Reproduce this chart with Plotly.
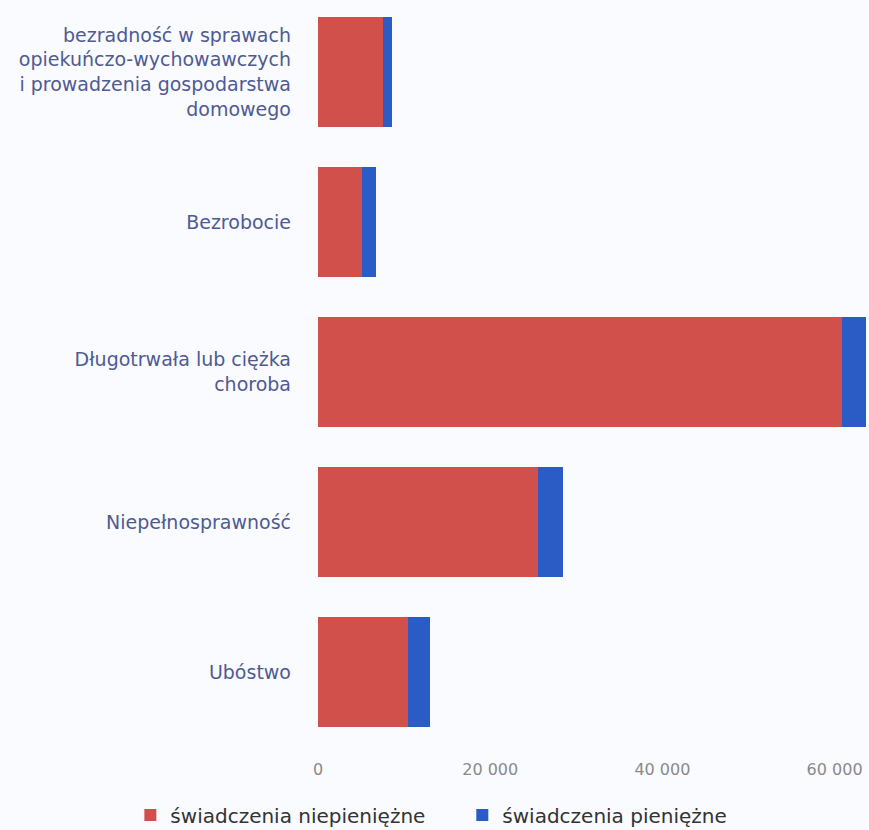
import plotly.graph_objects as go

categories = [
    "bezradność w sprawach<br>opiekuńczo-wychowawczych<br>i prowadzenia gospodarstwa<br>domowego",
    "Bezrobocie",
    "Długotrwała lub ciężka<br>choroba",
    "Niepełnosprawność",
    "Ubóstwo",
]
niepieniezne = [7600, 5100, 60900, 25500, 10500]
pieniezne = [1050, 1650, 2800, 2900, 2550]
x_ticks = [0, 20000, 40000, 60000]

fig = go.Figure()
fig.add_trace(
    go.Bar(
        y=categories,
        x=niepieniezne,
        orientation="h",
        name="świadczenia niepieniężne",
        marker=dict(color="#d2504c", line=dict(width=0)),
        legend="legend",
    )
)
fig.add_trace(
    go.Bar(
        y=categories,
        x=pieniezne,
        orientation="h",
        name="świadczenia pieniężne",
        marker=dict(color="#2b5cc6", line=dict(width=0)),
        legend="legend2",
    )
)

legend_style = dict(
    orientation="h",
    xref="container",
    yref="container",
    xanchor="left",
    y=0.018,
    yanchor="middle",
    font=dict(size=20, color="#333333"),
    bgcolor="rgba(0,0,0,0)",
)

fig.update_layout(
    showlegend=True,
    barmode="stack",
    bargap=0.27,
    width=869,
    height=830,
    margin=dict(l=318, r=0, t=0, b=80),
    paper_bgcolor="#f9fbfe",
    plot_bgcolor="#f9fbfe",
    font=dict(family="DejaVu Sans", color="#333333"),
    separators=", ",
    xaxis=dict(
        range=[0, 64000],
        tickvals=x_ticks,
        tickformat=",d",
        showgrid=False,
        zeroline=False,
        showline=False,
        tickfont=dict(size=16, color="#8a8a8a"),
        ticks="",
        ticklabelstandoff=8,
    ),
    yaxis=dict(
        range=[4.52, -0.48],
        showgrid=False,
        zeroline=False,
        showline=False,
        ticks="",
        ticklabelstandoff=26,
        tickfont=dict(size=19, color="#4f5a92"),
    ),
    legend=dict(x=0.15, visible=True, **legend_style),
    legend2=dict(x=0.532, visible=True, **legend_style),
)

fig.write_html(
    "out.html",
    config={"displayModeBar": False},
    post_script="document.body.style.margin='0px';",
)
